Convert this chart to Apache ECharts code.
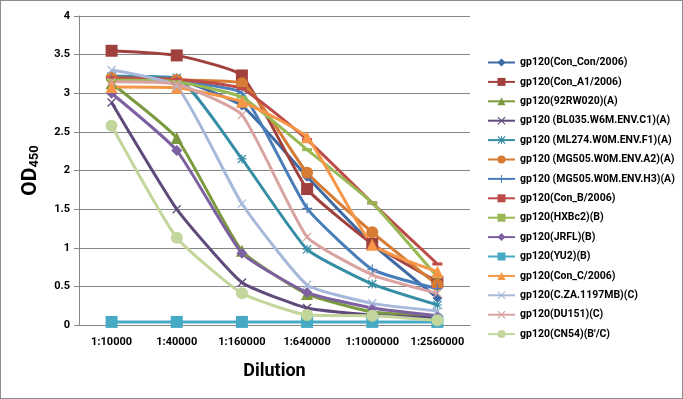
<!DOCTYPE html>
<html>
<head>
<meta charset="utf-8">
<script src="https://cdn.jsdelivr.net/npm/echarts@6/dist/echarts.min.js"></script>
<style>
  html, body { margin: 0; padding: 0; background: #fff; }
  #chart { width: 681px; height: 397px; border: 1px solid #8c8c8c; }
</style>
</head>
<body>
<div id="chart"></div>
<script>
// dilution categories
var categories = ['1:10000', '1:40000', '1:160000', '1:640000', '1:1000000', '1:2560000']
var yTicks = [0, 0.5, 1, 1.5, 2, 2.5, 3, 3.5, 4]

// OD450 readings per antigen
var conCon = [3.22, 3.18, 2.84, 1.92, 1.05, 0.35]
var conA1 = [3.55, 3.49, 3.23, 1.76, 1.05, 0.56]
var rw020 = [3.13, 2.42, 0.96, 0.40, 0.17, 0.12]
var bl035 = [2.88, 1.50, 0.55, 0.22, 0.13, 0.09]
var ml274 = [3.22, 3.20, 2.15, 0.98, 0.53, 0.26]
var mg505a2 = [3.20, 3.17, 3.13, 1.97, 1.20, 0.52]
var mg505h3 = [3.18, 3.15, 3.00, 1.51, 0.72, 0.47]
var conB = [3.20, 3.18, 3.06, 2.40, 1.58, 0.79]
var hxbc2 = [3.17, 3.15, 2.95, 2.27, 1.58, 0.62]
var jrfl = [3.00, 2.26, 0.93, 0.42, 0.22, 0.12]
var yu2 = [0.04, 0.04, 0.04, 0.04, 0.04, 0.04]
var conC = [3.08, 3.07, 2.89, 2.43, 1.04, 0.69]
var cza = [3.30, 3.09, 1.57, 0.52, 0.28, 0.18]
var du151 = [3.15, 3.12, 2.72, 1.14, 0.65, 0.41]
var cn54 = [2.58, 1.13, 0.41, 0.13, 0.12, 0.06]

// marker shapes (excel-like)
var X = 'path://M0,1 L1,0 L5,4 L9,0 L10,1 L6,5 L10,9 L9,10 L5,6 L1,10 L0,9 L4,5 Z'
var PLUS = 'path://M4.4,0 L5.6,0 L5.6,4.4 L10,4.4 L10,5.6 L5.6,5.6 L5.6,10 L4.4,10 L4.4,5.6 L0,5.6 L0,4.4 L4.4,4.4 Z'
var STAR = 'path://M0,1 L1,0 L5,4 L9,0 L10,1 L6,5 L10,9 L9,10 L5,6 L1,10 L0,9 L4,5 Z M4.4,0 L5.6,0 L5.6,10 L4.4,10 Z M0,4.4 L10,4.4 L10,5.6 L0,5.6 Z'
var DASH = 'path://M0,0 L10,0 L10,3 L0,3 Z'

function mk(name, data, color, symbol, size) {
  return {
    name: name,
    type: 'line',
    data: data,
    smooth: 0.15,
    symbol: symbol,
    symbolSize: size,
    lineStyle: { width: 3, color: color },
    itemStyle: { color: color },
    z: 2
  }
}

var series = [
  mk('gp120(Con_Con/2006)', conCon, '#3d6aa5', 'diamond', 10),
  mk('gp120(Con_A1/2006)', conA1, '#a0413e', 'rect', 12),
  mk('gp120(92RW020)(A)', rw020, '#7b9a3e', 'triangle', 12),
  mk('gp120 (BL035.W6M.ENV.C1)(A)', bl035, '#5f4a7b', X, 9),
  mk('gp120 (ML274.W0M.ENV.F1)(A)', ml274, '#358ea5', STAR, 9),
  mk('gp120 (MG505.W0M.ENV.A2)(A)', mg505a2, '#d57b33', 'circle', 12),
  mk('gp120 (MG505.W0M.ENV.H3)(A)', mg505h3, '#4a7ebb', PLUS, 10),
  mk('gp120(Con_B/2006)', conB, '#be4b48', DASH, [10, 3]),
  mk('gp120(HXBc2)(B)', hxbc2, '#98b954', DASH, [10, 3]),
  mk('gp120(JRFL)(B)', jrfl, '#7d60a0', 'diamond', 11),
  mk('gp120(YU2)(B)', yu2, '#46aac5', 'rect', 12),
  mk('gp120(Con_C/2006)', conC, '#f79646', 'triangle', 12),
  mk('gp120(C.ZA.1197MB)(C)', cza, '#a7b9da', X, 9),
  mk('gp120(DU151)(C)', du151, '#d9a3a1', X, 9),
  mk("gp120(CN54)(B'/C)", cn54, '#c3d69b', 'circle', 12)
]

var myChart = echarts.init(document.getElementById('chart'))
myChart.setOption({
  animation: false,
  textStyle: { fontFamily: 'Roboto, "Liberation Sans", sans-serif' },
  grid: { left: 78, top: 15, right: 212, bottom: 73, containLabel: false },
  legend: {
    orient: 'vertical',
    left: 481,
    top: 51,
    itemWidth: 27,
    itemHeight: 10,
    itemGap: 8.4,
    textStyle: { fontSize: 10.5, fontWeight: 'bold', color: '#000' },
    data: series.map(function (s) { return s.name })
  },
  xAxis: {
    type: 'category',
    data: categories,
    boundaryGap: true,
    name: 'Dilution',
    nameLocation: 'middle',
    nameGap: 37,
    nameTextStyle: { fontSize: 18, fontWeight: 'bold', color: '#000' },
    axisLine: { lineStyle: { color: '#868686', width: 1 } },
    axisTick: { show: false },
    axisLabel: { fontSize: 11, fontWeight: 'bold', color: '#000', margin: 12, interval: 0 }
  },
  yAxis: {
    type: 'value',
    min: 0,
    max: 4,
    interval: 0.5,
    name: 'OD{s|450}',
    nameLocation: 'middle',
    nameGap: 38,
    nameRotate: 90,
    nameTextStyle: {
      fontSize: 21,
      fontWeight: 'bold',
      color: '#000',
      rich: {
        s: { fontSize: 13, fontWeight: 'bold', color: '#000', padding: [8, 0, 0, 0] }
      }
    },
    axisLine: { show: true, lineStyle: { color: '#868686', width: 1 } },
    axisTick: { show: true, length: 5, inside: false, lineStyle: { color: '#868686' } },
    splitLine: { lineStyle: { color: '#868686', width: 1 } },
    axisLabel: {
      fontSize: 11,
      fontWeight: 'bold',
      color: '#000',
      margin: 9,
      formatter: function (v) {
        return yTicks.indexOf(v) >= 0 ? String(v) : ''
      }
    }
  },
  series: series
})
</script>
</body>
</html>
